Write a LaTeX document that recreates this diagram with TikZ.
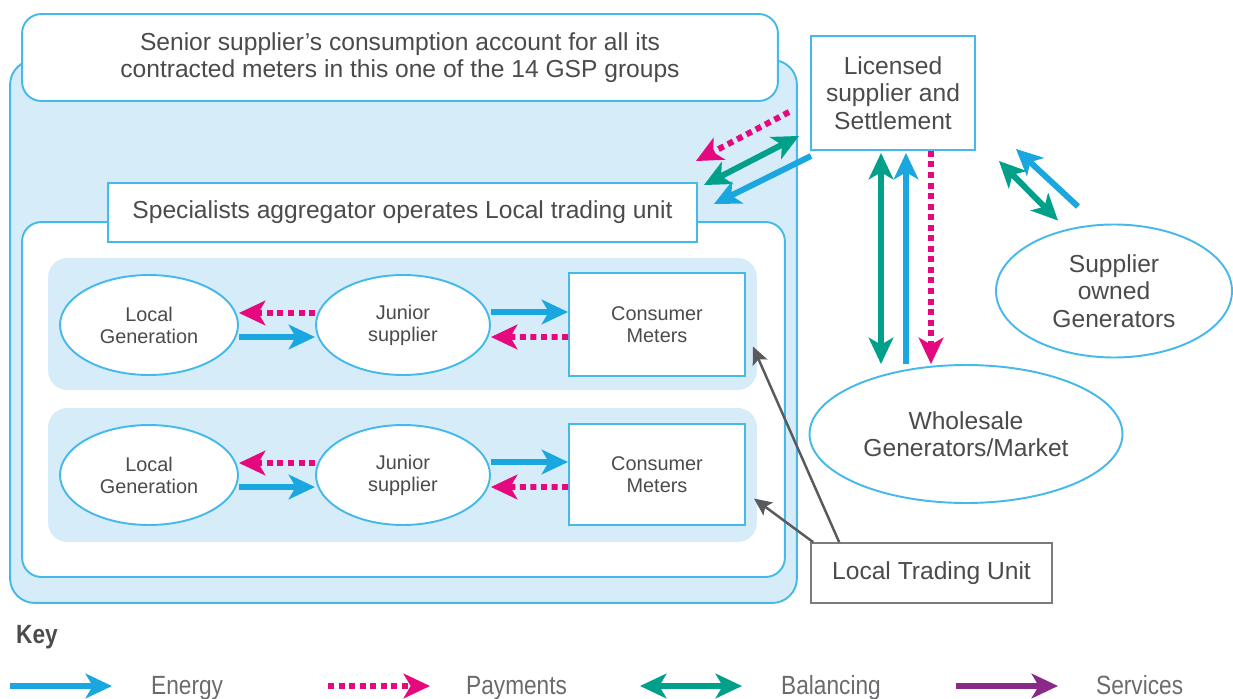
\documentclass[tikz,border=0pt]{standalone}
\usepackage{fontspec}
\setmainfont{Liberation Sans}
\newfontfamily\keyfont[FakeStretch=0.86]{Liberation Sans}
\usetikzlibrary{positioning, shapes.geometric, arrows.meta}

\definecolor{energyblue}{HTML}{1AA7E0}
\definecolor{paypink}{HTML}{E5087E}
\definecolor{balgreen}{HTML}{00A08B}
\definecolor{servpurple}{HTML}{8A2A88}
\definecolor{lineblue}{HTML}{45B9E9}
\definecolor{panelblue}{HTML}{D6EDF9}
\definecolor{txtgray}{HTML}{4B4B4E}
\definecolor{keygray}{HTML}{6A6B6E}
\definecolor{ptrgray}{HTML}{585A5E}

\begin{document}
\begin{tikzpicture}[
		x=0.02cm, y=-0.02cm,
		>={Stealth[length=15pt, width=14pt, inset=4pt]},
		bigtext/.style={font=\fontsize{14}{15.5}\selectfont, text=txtgray, align=center},
		smalltext/.style={font=\fontsize{11.3}{12.5}\selectfont, text=txtgray, align=center},
		outline/.style={draw=lineblue, line width=1.1pt, fill=white},
		account/.style={rectangle, rounded corners=14pt, draw=lineblue, line width=1.1pt, fill=panelblue},
		roundbox/.style={rectangle, rounded corners=11pt, outline},
		plainbox/.style={rectangle, outline},
		rowpanel/.style={rectangle, rounded corners=11pt, fill=panelblue},
		party/.style={ellipse, outline, inner sep=0pt},
		ltubox/.style={rectangle, draw=ptrgray!80, line width=1pt, fill=white, bigtext},
		energy/.style={->, draw=energyblue, line width=3.4pt},
		pay/.style={->, draw=paypink, line width=3.4pt, dash pattern=on 3.4pt off 2.6pt},
		bal/.style={<->, draw=balgreen, line width=3.4pt},
		serv/.style={->, draw=servpurple, line width=3.4pt},
		pointer/.style={-{Stealth[length=10pt, width=9pt, inset=2pt]}, draw=ptrgray, line width=1.4pt},
		keytext/.style={font=\keyfont\fontsize{15}{16}\selectfont, text=keygray, anchor=base west}
	]

	\useasboundingbox (0,0) rectangle (1233,699);

	% GSP group account
	\node[account, minimum width=15.74cm, minimum height=10.86cm] (acct) at (403.5,331.5) {};
	\node[roundbox, minimum width=15.12cm, minimum height=1.74cm, bigtext] (senior) at (400,57.5)
	{Senior supplier's consumption account for all its\\contracted meters in this one of the 14 GSP groups};
	\node[roundbox, minimum width=15.26cm, minimum height=7.1cm] (ltu_area) at (403.5,399.5) {};
	\node[plainbox, minimum width=11.78cm, minimum height=1.18cm, bigtext] (agg) at (402.5,212.5)
	{Specialists aggregator operates Local trading unit};

	% Local trading rows
	\node[rowpanel, minimum width=14.18cm, minimum height=2.64cm] (row_a) at (402.5,324) {};
	\node[rowpanel, minimum width=14.18cm, minimum height=2.68cm] (row_b) at (402.5,475) {};

	\node[party, minimum width=3.56cm, minimum height=2cm, smalltext] (gen_a) at (149,325) {Local\\Generation};
	\node[party, minimum width=3.48cm, minimum height=2cm, smalltext] (jun_a) at (403,325) {Junior\\supplier};
	\node[plainbox, minimum width=3.52cm, minimum height=2.06cm, smalltext] (meter_a) at (657,324.5) {Consumer\\Meters};
	\draw[pay] ([shift={(0,-12)}]jun_a.west) -- ([shift={(0,-12)}]gen_a.east);
	\draw[energy] ([shift={(0,12)}]gen_a.east) -- ([shift={(0,12)}]jun_a.west);
	\draw[energy] ([shift={(0,-13)}]jun_a.east) -- ([shift={(0,-12.5)}]meter_a.west);
	\draw[pay] ([shift={(0,12.5)}]meter_a.west) -- ([shift={(0,12)}]jun_a.east);

	\node[party, minimum width=3.56cm, minimum height=2cm, smalltext] (gen_b) at (149,475) {Local\\Generation};
	\node[party, minimum width=3.48cm, minimum height=2cm, smalltext] (jun_b) at (403,475) {Junior\\supplier};
	\node[plainbox, minimum width=3.52cm, minimum height=2.02cm, smalltext] (meter_b) at (657,474.5) {Consumer\\Meters};
	\draw[pay] ([shift={(0,-12)}]jun_b.west) -- ([shift={(0,-12)}]gen_b.east);
	\draw[energy] ([shift={(0,12)}]gen_b.east) -- ([shift={(0,12)}]jun_b.west);
	\draw[energy] ([shift={(0,-13)}]jun_b.east) -- ([shift={(0,-12.5)}]meter_b.west);
	\draw[pay] ([shift={(0,12.5)}]meter_b.west) -- ([shift={(0,12)}]jun_b.east);

	% Supplier, market and generators
	\node[plainbox, minimum width=3.28cm, minimum height=2.28cm, bigtext] (lic) at (893,93)
	{Licensed\\supplier and\\Settlement};
	\node[party, minimum width=6.26cm, minimum height=2.76cm, bigtext] (whole) at (966,434)
	{Wholesale\\Generators/Market};
	\node[party, minimum width=4.72cm, minimum height=2.66cm, bigtext] (own) at (1114,291)
	{Supplier\\owned\\Generators};
	\node[ltubox, minimum width=4.82cm, minimum height=1.2cm] (ltu) at (931.5,573) {Local Trading Unit};

	% settlement <-> aggregator
	\draw[pay] ([shift={(-21,19)}]lic.west) -- ([shift={(-2,-21)}]agg.north east);
	\draw[bal] ([shift={(-11,-15)}]lic.south west) -- ([shift={(6,3)}]agg.north east);
	\draw[energy] ([shift={(1,5)}]lic.south west) -- ([shift={(16,22)}]agg.north east);

	% settlement <-> wholesale
	\coordinate (v_bal) at ([shift={(-12,2)}]lic.south);
	\coordinate (v_energy) at ([shift={(13,2)}]lic.south);
	\coordinate (v_pay) at ([shift={(38,0)}]lic.south);
	\draw[bal] (v_bal) -- (v_bal |- whole.north);
	\draw[energy] (v_energy |- whole.north) -- (v_energy);
	\draw[pay] (v_pay) -- (v_pay |- whole.north);

	% settlement <-> own generators
	\draw[energy] ([shift={(-36,-17)}]own.north) -- ([shift={(40,-2)}]lic.south east);
	\draw[bal] ([shift={(23,10)}]lic.south east) -- ([shift={(-56,-3)}]own.north);

	% trading unit pointers
	\draw[pointer] ([shift={(29,0)}]ltu.north west) -- ([shift={(7,22)}]meter_a.east);
	\draw[pointer] ([shift={(3,0)}]ltu.north west) -- ([shift={(8,24)}]meter_b.east);

	% Key
	\node[anchor=west, font=\keyfont\bfseries\fontsize{15}{16}\selectfont, text=txtgray] (key) at (10,637) {Key};
	\node[keytext] (k_energy) at (145,694) {Energy};
	\node[keytext] (k_pay) at (460,694) {Payments};
	\node[keytext] (k_bal) at (775,694) {Balancing};
	\node[keytext] (k_serv) at (1090,694) {Services};
	\draw[energy] ([shift={(-135,-8)}]k_energy.base west) -- ([shift={(-33,-8)}]k_energy.base west);
	\draw[pay] ([shift={(-132,-8)}]k_pay.base west) -- ([shift={(-30,-8)}]k_pay.base west);
	\draw[bal] ([shift={(-135,-8)}]k_bal.base west) -- ([shift={(-33,-8)}]k_bal.base west);
	\draw[serv] ([shift={(-134,-8)}]k_serv.base west) -- ([shift={(-32,-8)}]k_serv.base west);

\end{tikzpicture}
\end{document}
